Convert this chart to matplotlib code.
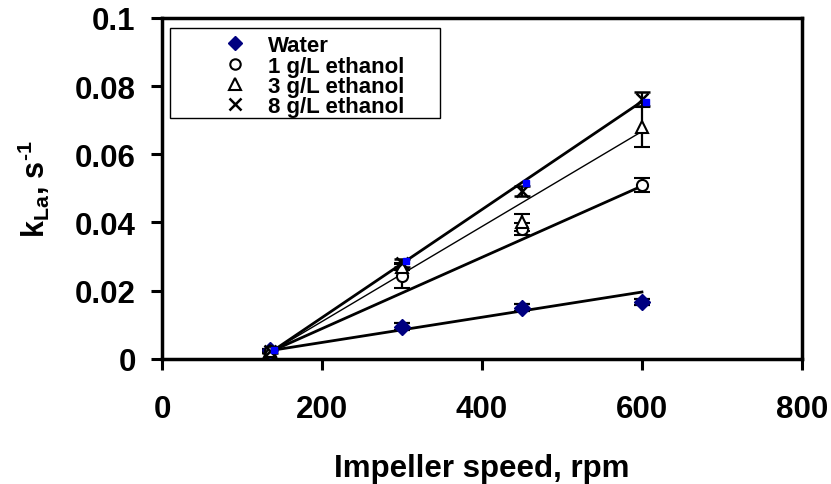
import numpy as np
import matplotlib
matplotlib.use('Agg')
import matplotlib.pyplot as plt
from matplotlib.patches import Rectangle

plt.rcParams['font.family'] = ['Liberation Sans', 'DejaVu Sans']
plt.rcParams['font.weight'] = 'bold'
plt.rcParams['mathtext.fontset'] = 'custom'
plt.rcParams['mathtext.rm'] = 'Liberation Sans:bold'
plt.rcParams['mathtext.it'] = 'Liberation Sans:bold'
plt.rcParams['mathtext.bf'] = 'Liberation Sans:bold'

# impeller speed, rpm
speed = [135, 300, 450, 600]

# kLa values (s^-1) and error bars
water = [0.0025, 0.0094, 0.0150, 0.0167]
water_err = [0.0004, 0.0010, 0.0010, 0.0010]
eth1 = [0.0022, 0.0244, 0.0380, 0.0510]
eth1_err = [0.0004, 0.0035, 0.0018, 0.0020]
eth3 = [0.0022, 0.0270, 0.0400, 0.0680]
eth3_err = [0.0004, 0.0010, 0.0025, 0.0058]
eth8 = [0.0022, 0.0280, 0.0492, 0.0762]
eth8_err = [0.0004, 0.0012, 0.0015, 0.0021]

# small blue marks partly hidden under the 8 g/L points
blue_x = [140, 305, 455, 605]
blue_y = [0.0026, 0.0287, 0.0515, 0.0752]

# fitted lines (end points)
fit_x = [140, 600]
fit_water = [0.0026, 0.0196]
fit_1 = [0.0026, 0.0507]
fit_3 = [0.0026, 0.0667]
fit_8 = [0.0026, 0.0755]

labels = ['Water', '1 g/L ethanol', '3 g/L ethanol', '8 g/L ethanol']

fig = plt.figure(figsize=(8.31, 4.85), dpi=100)
ax = fig.add_axes([0.195, 0.258, 0.77, 0.703])

# lines
ax.plot(fit_x, fit_water, 'k-', lw=2, zorder=2)
ax.plot(fit_x, fit_1, 'k-', lw=2, zorder=2)
ax.plot(fit_x, fit_3, 'k-', lw=1, zorder=2)
ax.plot(fit_x, fit_8, 'k-', lw=2, zorder=2)

styles = [
    dict(marker='D', ms=8, mfc='#000080', mec='#000080'),
    dict(marker='o', ms=8, mfc='white', mec='k', mew=1.5),
    dict(marker='^', ms=9, mfc='white', mec='k', mew=1.5),
    dict(marker='x', ms=9, mec='k', mew=1.8),
]
ebkw = dict(ecolor='k', elinewidth=1.6, capsize=5.5, capthick=1.6, ls='none', zorder=3)
series = [(water, water_err), (eth1, eth1_err), (eth3, eth3_err), (eth8, eth8_err)]
for (y, e), st in zip(series, styles):
    ax.errorbar(speed, y, yerr=e, **st, **ebkw)
ax.plot(blue_x, blue_y, ls='none', marker='s', ms=5, mfc='#0000FF', mec='#0000FF', zorder=4)

ax.set_xlim(0, 800)
ax.set_ylim(0, 0.1)
ax.set_xticks([0, 200, 400, 600, 800])
ax.set_yticks([0, 0.02, 0.04, 0.06, 0.08, 0.1])
ax.set_yticklabels(['0', '0.02', '0.04', '0.06', '0.08', '0.1'])

for s in ax.spines.values():
    s.set_linewidth(2.5)
ax.tick_params(axis='both', direction='out', length=8, width=2.2, labelsize=22.5)
ax.tick_params(axis='x', pad=17)
ax.tick_params(axis='y', pad=11)

ax.set_xlabel('Impeller speed, rpm', fontsize=22.5, fontweight='bold', labelpad=21)
ax.set_ylabel(r'k$_{\mathbf{La}}$, s$^{\text{-1}}$', fontsize=22, fontweight='bold', labelpad=16)

# legend box drawn by hand so the rows sit tight like the original
ax.add_patch(Rectangle((0.0125, 0.707), 0.422, 0.264, transform=ax.transAxes,
                       fill=False, ec='k', lw=1, zorder=5, clip_on=False))
row_y = [0.925, 0.866, 0.807, 0.748]
for ry, st, lab in zip(row_y, styles, labels):
    ms = st['ms'] - 0.5
    ax.plot([0.114], [ry], transform=ax.transAxes, ls='none', clip_on=False, zorder=6,
            **dict(st, ms=ms))
    ax.text(0.166, ry, lab, transform=ax.transAxes, fontsize=16, fontweight='bold',
            va='center_baseline', ha='left', zorder=6)

fig.savefig('out.png', dpi=100)
